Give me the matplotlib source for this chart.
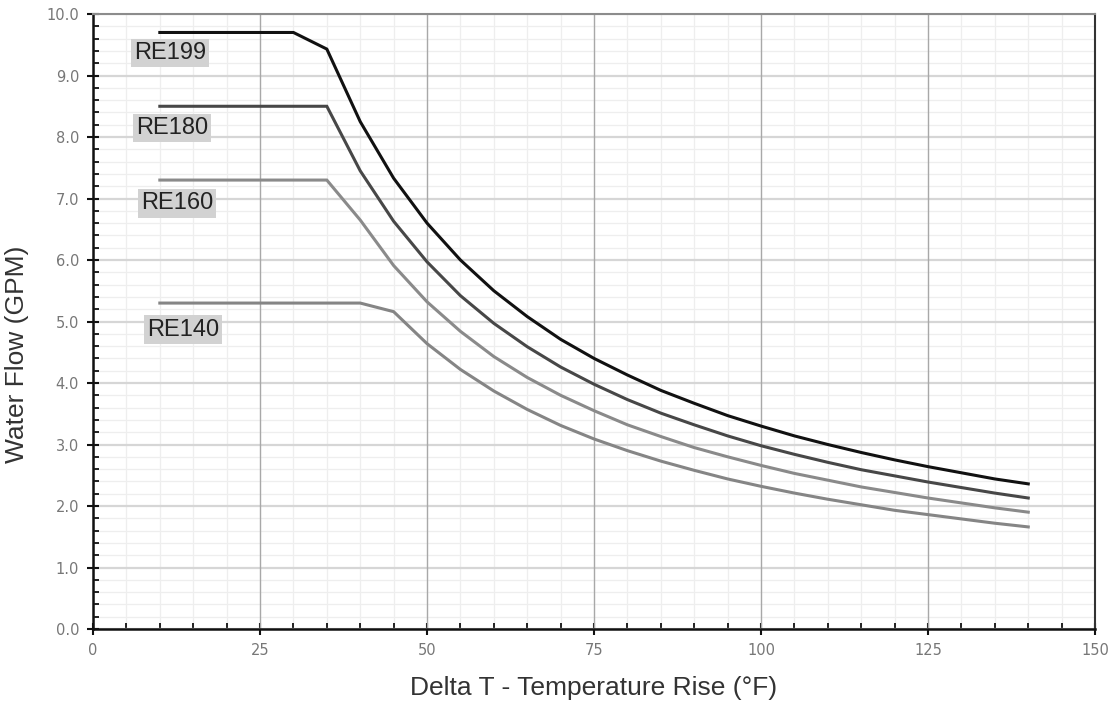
import numpy as np
import matplotlib.pyplot as plt
from matplotlib.ticker import MultipleLocator, FormatStrFormatter

# temperature rise (F)
delta_t = [10, 15, 20, 25, 30, 35, 40, 45, 50, 55, 60, 65, 70, 75, 80,
           85, 90, 95, 100, 105, 110, 115, 120, 125, 130, 135, 140]

re199 = [9.7, 9.7, 9.7, 9.7, 9.7, 9.43, 8.25, 7.33, 6.6, 6.0, 5.5, 5.08, 4.71, 4.4, 4.13,
         3.88, 3.67, 3.47, 3.3, 3.14, 3.0, 2.87, 2.75, 2.64, 2.54, 2.44, 2.36]
re180 = [8.5, 8.5, 8.5, 8.5, 8.5, 8.5, 7.45, 6.63, 5.97, 5.42, 4.97, 4.59, 4.26, 3.98, 3.73,
         3.51, 3.32, 3.14, 2.98, 2.84, 2.71, 2.59, 2.49, 2.39, 2.30, 2.21, 2.13]
re160 = [7.3, 7.3, 7.3, 7.3, 7.3, 7.3, 6.65, 5.91, 5.32, 4.84, 4.43, 4.09, 3.8, 3.55, 3.32,
         3.13, 2.95, 2.8, 2.66, 2.53, 2.42, 2.31, 2.22, 2.13, 2.05, 1.97, 1.9]
re140 = [5.3, 5.3, 5.3, 5.3, 5.3, 5.3, 5.3, 5.16, 4.64, 4.22, 3.87, 3.57, 3.31, 3.09, 2.9,
         2.73, 2.58, 2.44, 2.32, 2.21, 2.11, 2.02, 1.93, 1.86, 1.79, 1.72, 1.66]

series = [
    ('RE199', re199, '#111111', (11.5, 9.36)),
    ('RE180', re180, '#474747', (11.8, 8.14)),
    ('RE160', re160, '#8a8a8a', (12.6, 6.92)),
    ('RE140', re140, '#858585', (13.5, 4.87)),
]

fig = plt.figure(figsize=(11.14, 7.01), dpi=100)
ax = fig.add_axes([0.0835, 0.1027, 0.8995, 0.8773])

ax.set_xlim(0, 150)
ax.set_ylim(0, 10)

# grid
ax.set_axisbelow(True)
ax.xaxis.set_major_locator(MultipleLocator(25))
ax.xaxis.set_minor_locator(MultipleLocator(5))
ax.yaxis.set_major_locator(MultipleLocator(1.0))
ax.yaxis.set_minor_locator(MultipleLocator(0.2))
ax.grid(axis='y', which='major', color='#d6d6d6', linewidth=1.6)
ax.grid(which='minor', color='#eeeeee', linewidth=0.9)
# vertical major lines drawn over the horizontal grid
for xv in ax.get_xticks()[1:-1]:
    ax.axvline(xv, color='#a8a8a8', linewidth=1.0, zorder=0.8)

for name, vals, col, pos in series:
    ax.plot(delta_t, vals, color=col, linewidth=2.2, solid_joinstyle='miter', zorder=2)
    ax.text(pos[0], pos[1], name, ha='center', va='center', fontsize=17,
            family='Liberation Sans', color='#222222', zorder=3,
            bbox=dict(boxstyle='square,pad=0.13', facecolor='#d2d2d2', edgecolor='none'))

ax.yaxis.set_major_formatter(FormatStrFormatter('%.1f'))

ax.tick_params(which='major', direction='inout', length=8, width=1.5, colors='#111111',
               labelcolor='#777777', labelsize=10.5, pad=6)
ax.tick_params(which='minor', direction='in', length=4, width=1.3, colors='#111111')

for s in ['left', 'bottom']:
    ax.spines[s].set_linewidth(1.8)
    ax.spines[s].set_color('#111111')
ax.spines['top'].set_color('#8c8c8c')
ax.spines['top'].set_linewidth(1.5)
ax.spines['right'].set_color('#333333')
ax.spines['right'].set_linewidth(1.5)

ax.set_xlabel('Delta T - Temperature Rise (°F)', fontsize=19, family='Liberation Sans',
              color='#333333', va='center')
ax.xaxis.set_label_coords(0.4995, -0.096)
ax.set_ylabel('Water Flow (GPM)', fontsize=19, family='Liberation Sans',
              color='#333333', va='center')
ax.yaxis.set_label_coords(-0.076, 0.446)

fig.savefig('out.png', dpi=100)
